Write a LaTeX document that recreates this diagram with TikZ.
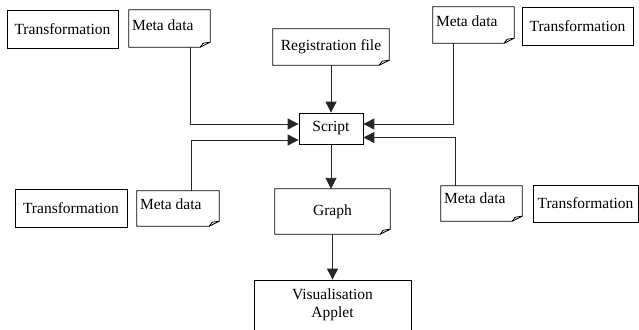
\documentclass[tikz,border=0pt]{standalone}
\usepackage{fontspec}
\newfontfamily\labelfont{LiberationSerif-Regular.ttf}
\usetikzlibrary{arrows.meta,calc}

\tikzset{
  txt/.style={font=\labelfont\fontsize{15.5}{18}\selectfont},
  box/.style={draw, line width=0.8pt, inner sep=0pt, txt, align=center},
  note/.style={inner sep=0pt, txt, align=center},
  lbl/.style={inner sep=0pt, txt},
  conn/.style={line width=0.9pt, draw=black!85, -{Triangle[length=11pt,width=11pt]}},
  frame/.style={line width=0.8pt}
}

% outline of a document box: rectangle with a turned-down lower right corner
\newcommand{\foldframe}[1]{%
  \draw[frame] (#1.north west) -- (#1.north east) -- ([shift={(0,-5)}]#1.south east)
    -- ([shift={(-10,0)}]#1.south east) -- (#1.south west) -- cycle;
  \draw[frame] ([shift={(-10,0)}]#1.south east) -- ([shift={(-7,-4)}]#1.south east)
    -- ([shift={(0,-5)}]#1.south east);
}

\begin{document}
\begin{tikzpicture}[x=1pt,y=-1pt]
\useasboundingbox (0,0) rectangle (639,329);
\clip (0,0) rectangle (639,329);

% transformation boxes
\node[box, minimum width=111pt, minimum height=38pt] (trTL) at (62.5,29) {Transformation};
\node[box, minimum width=111pt, minimum height=38pt] (trTR) at (577.5,26) {Transformation};
\node[box, minimum width=112pt, minimum height=38pt] (trBL) at (71,208) {Transformation};
\node[box, minimum width=105pt, minimum height=37pt] (trBR) at (585.5,203.5) {Transformation};

% meta data documents
\node[note, minimum width=81pt, minimum height=37pt] (mdTL) at (169.5,28.5) {};
\node[note, minimum width=81pt, minimum height=36pt] (mdTR) at (473.5,25) {};
\node[note, minimum width=82pt, minimum height=35pt] (mdBL) at (178,208.5) {};
\node[note, minimum width=81pt, minimum height=35pt] (mdBR) at (481.5,203.5) {};
\foldframe{mdTL}
\foldframe{mdTR}
\foldframe{mdBL}
\foldframe{mdBR}
\node[lbl, anchor=base west] (mdTLt) at ([shift={(3,21)}]mdTL.north west) {Meta data};
\node[lbl, anchor=base west] (mdTRt) at ([shift={(3,20)}]mdTR.north west) {Meta data};
\node[lbl, anchor=base west] (mdBLt) at ([shift={(3,19)}]mdBL.north west) {Meta data};
\node[lbl, anchor=base west] (mdBRt) at ([shift={(3,18)}]mdBR.north west) {Meta data};

% central chain
\node[note, minimum width=116pt, minimum height=36pt] (reg) at (331,47) {Registration file};
\foldframe{reg}
\node[box, minimum width=64pt, minimum height=31pt] (script) at (331,128.5) {Script};
\node[note, minimum width=115pt, minimum height=45pt] (graph) at (332.5,211.5) {Graph};
\foldframe{graph}
\node[box, minimum width=157pt, minimum height=50pt] (vis) at (332.5,305) {Visualisation\\Applet};

% connectors
\draw[conn] (reg.south) -- (reg.south |- script.north);
\draw[conn] (script.south) -- (script.south |- graph.north);
\draw[conn] (graph.south) -- (vis.north);

\draw[conn] ([shift={(20.5,0)}]mdTL.south) |- ([shift={(0,-4.5)}]script.west);
\draw[conn] ([shift={(13,0)}]mdBL.north) |- ([shift={(0,11.5)}]script.west);
\draw[conn] ([shift={(-20.5,0)}]mdTR.south) |- ([shift={(0,-4.5)}]script.east);
\draw[conn] ([shift={(-26.5,0)}]mdBR.north) |- ([shift={(0,9)}]script.east);
\end{tikzpicture}
\end{document}
